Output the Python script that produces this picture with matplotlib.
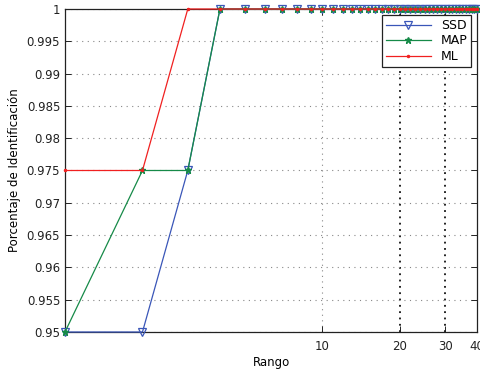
import numpy as np
import matplotlib.pyplot as plt
from matplotlib.ticker import FixedLocator, NullLocator

# rank 1..40
rango = np.arange(1, 41)
ssd = [0.95, 0.95, 0.975] + [1.0] * 37
map_ = [0.95, 0.975, 0.975] + [1.0] * 37
ml = [0.975, 0.975] + [1.0] * 38

xticks = [10, 20, 30, 40]
yticks = [0.95, 0.955, 0.96, 0.965, 0.97, 0.975, 0.98, 0.985, 0.99, 0.995, 1]

fig = plt.figure(figsize=(4.8, 3.7), dpi=100)
ax = fig.add_axes([0.1354, 0.1027, 0.859, 0.873])

ax.plot(rango, ssd, color='#3a56b8', lw=0.9, marker='v', ms=5.5,
        mfc='none', mec='#3a56b8', mew=0.9, label='SSD', clip_on=False, zorder=3)
ax.plot(rango, map_, color='#168a48', lw=0.9, marker='*', ms=4.5,
        mfc='#168a48', mec='#168a48', label='MAP', clip_on=False, zorder=4)
ax.plot(rango, ml, color='#f02020', lw=0.9, marker='.', ms=3,
        label='ML', clip_on=False, zorder=5)

ax.set_xscale('log')
ax.set_xlim(1, 40)
ax.set_ylim(0.95, 1)
ax.xaxis.set_major_locator(FixedLocator(xticks))
ax.xaxis.set_minor_locator(NullLocator())
ax.set_xticklabels([str(t) for t in xticks])
ax.set_yticks(yticks)
ax.set_yticklabels(['0.95', '0.955', '0.96', '0.965', '0.97', '0.975',
                    '0.98', '0.985', '0.99', '0.995', '1'])

ax.tick_params(direction='in', length=4, width=0.7, labelsize=8.5,
               top=True, right=True, colors='#222222')
ax.tick_params(axis='x', pad=6)
for s in ax.spines.values():
    s.set_linewidth(0.9)
    s.set_color('#222222')

ax.grid(True, which='major', axis='y', ls=(0, (1, 4)), lw=0.8, color='#888888')
ax.axvline(10, ls=(0, (1, 4)), lw=0.8, color='#888888', zorder=1)
for v in (20, 30):
    ax.axvline(v, ls=(0, (1, 2.5)), lw=1.3, color='#111111', zorder=1)

ax.set_xlabel('Rango', fontsize=8.5, labelpad=2)
ax.set_ylabel('Porcentaje de Identificación', fontsize=8.5, labelpad=4)

leg = ax.legend(loc='upper right', fontsize=9, fancybox=False, framealpha=1,
                edgecolor='#222222', borderpad=0.3, handlelength=3.6,
                labelspacing=0.2, borderaxespad=0,
                bbox_to_anchor=(0.985, 0.981))
leg.get_frame().set_linewidth(0.9)

fig.savefig('out.png', dpi=100)
